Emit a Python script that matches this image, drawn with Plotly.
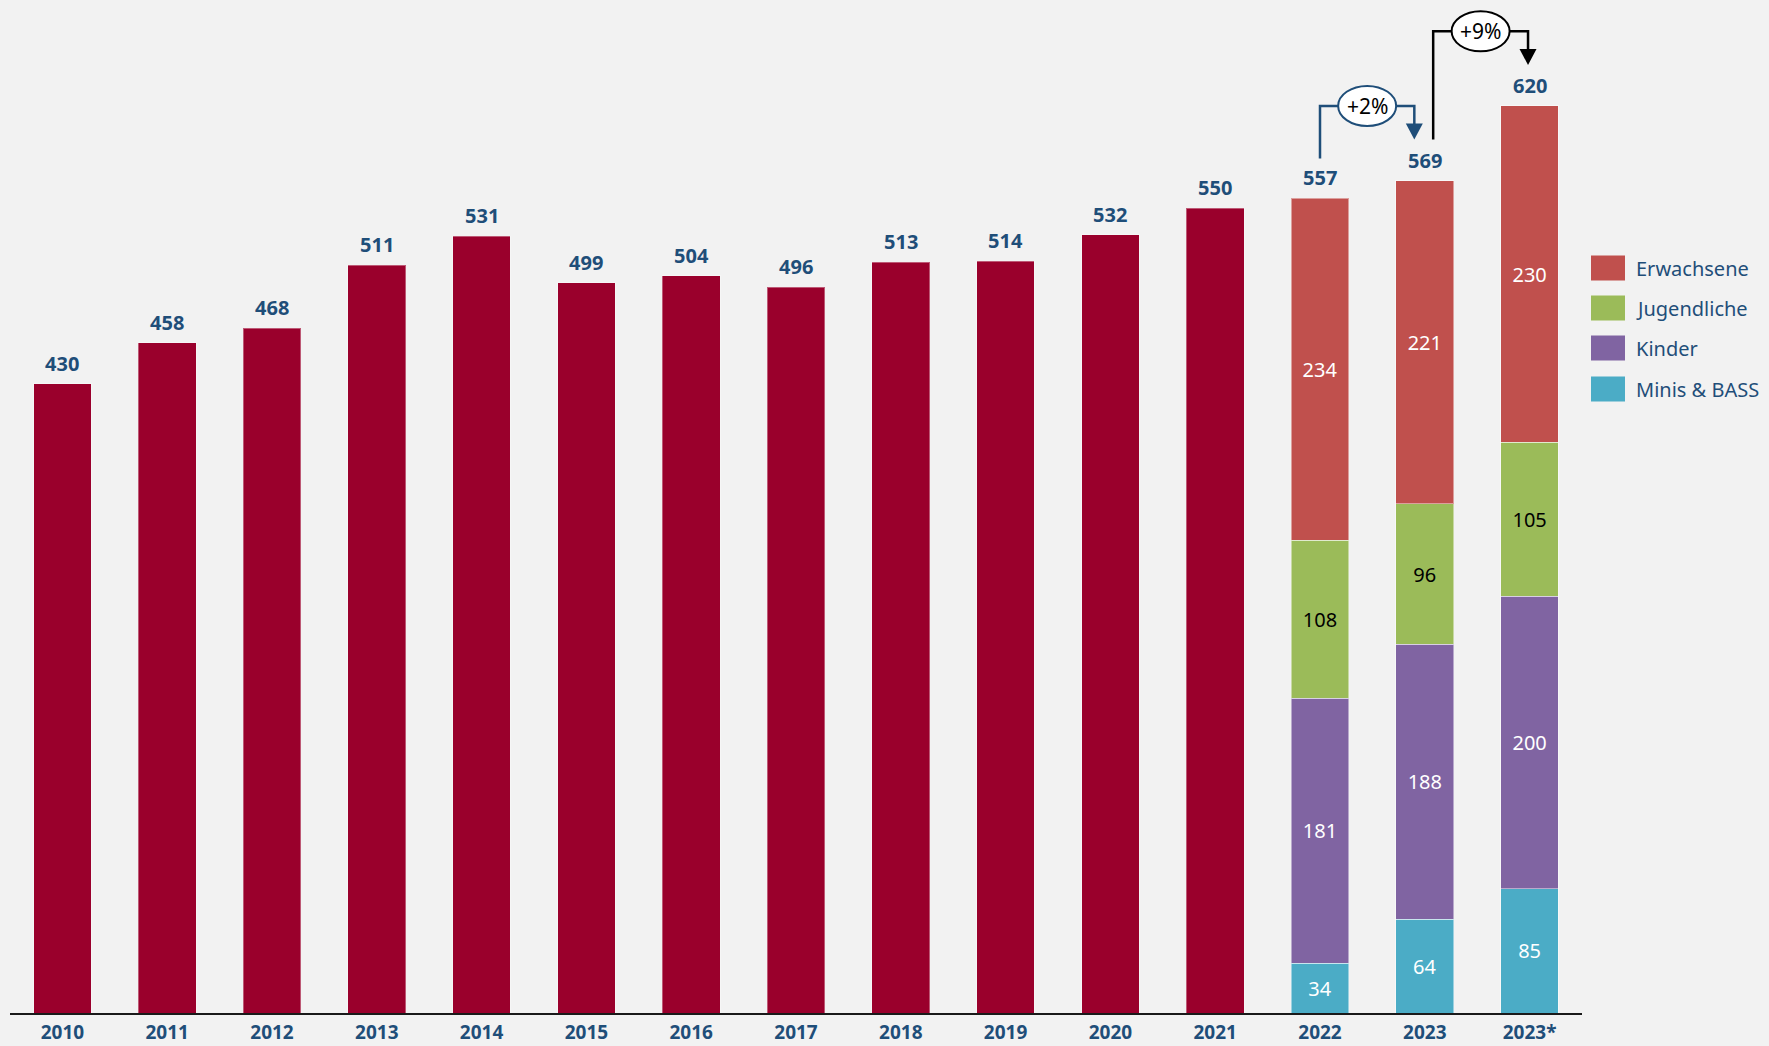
import plotly.graph_objects as go

# ---------------- data ----------------
years = ["2010", "2011", "2012", "2013", "2014", "2015", "2016", "2017",
         "2018", "2019", "2020", "2021", "2022", "2023", "2023*"]
totals = [430, 458, 468, 511, 531, 499, 504, 496, 513, 514, 532, 550, 557, 569, 620]

split_years = ["2022", "2023", "2023*"]
minis = [34, 64, 85]
kinder = [181, 188, 200]
jugendliche = [108, 96, 105]
erwachsene = [234, 221, 230]

series_names = ["Minis & BASS", "Kinder", "Jugendliche", "Erwachsene"]
series_colors = ["#4BACC6", "#8064A2", "#9BBB59", "#C0504D"]
series_text_colors = ["white", "white", "black", "white"]

changes = ["+2%", "+9%"]

# ---------------- style ----------------
BG = "#F2F2F2"
BAR_RED = "#9A002C"
BLUE = "#1F4E79"
FONT = "Noto Sans"

W, H = 1769, 1046
ML, MR, MT, MB = 10, 187, 0, 33
plot_w = W - ML - MR
plot_h = H - MT - MB
y_max = 692.4
bar_w = 0.55

idx = {y: i for i, y in enumerate(years)}
single_x = [idx[y] for y in years if y not in split_years]
single_y = [totals[idx[y]] for y in years if y not in split_years]
split_x = [idx[y] for y in split_years]

fig = go.Figure()

fig.add_trace(go.Bar(
    x=single_x, y=single_y, width=bar_w, marker_color=BAR_RED,
    marker_line=dict(color="rgba(255,255,255,0.35)", width=1),
    showlegend=False, hoverinfo="x+y", name="Gesamt"))

for name, vals, col, tcol in zip(series_names, [minis, kinder, jugendliche, erwachsene],
                                 series_colors, series_text_colors):
    fig.add_trace(go.Bar(
        x=split_x, y=vals, width=bar_w, name=name, marker_color=col,
        marker_line=dict(color="rgba(255,255,255,0.45)", width=1),
        text=[str(v) for v in vals], textposition="inside",
        insidetextanchor="middle", textangle=0,
        textfont=dict(family=FONT, size=20, color=tcol),
        showlegend=False))

# totals above bars
for i, t in enumerate(totals):
    fig.add_annotation(x=i, y=t, text=f"<b>{t}</b>", showarrow=False,
                       yanchor="bottom", yshift=5,
                       font=dict(family=FONT, size=20, color=BLUE))

# ---------------- change arrows ----------------
px_per_unit = plot_h / y_max
ux = plot_w / len(years)


def add_change(i_from, i_to, label, color, x_left_off):
    a = totals[i_from]
    b = totals[i_to]
    x_left = i_from + x_left_off
    x_right = i_to - 0.1 if i_to == 13 else i_to - 0.015
    y_start = a + 27 if x_left_off == 0 else totals[i_from] + 28
    y_top = b + 51
    y_tip = b + 28
    fig.add_shape(type="path",
                  path=f"M {x_left},{y_start} L {x_left},{y_top} L {x_right},{y_top} L {x_right},{y_tip + 10}",
                  line=dict(color=color, width=2.5), layer="above")
    hw = 8.5 / ux
    hh = 16 / px_per_unit
    fig.add_shape(type="path",
                  path=f"M {x_right - hw},{y_tip + hh} L {x_right + hw},{y_tip + hh} L {x_right},{y_tip} Z",
                  fillcolor=color, line=dict(color=color, width=0), layer="above")
    xc = (x_left + x_right) / 2
    ew = 29 / ux
    eh = 20 / px_per_unit
    fig.add_shape(type="circle", x0=xc - ew, x1=xc + ew, y0=y_top - eh, y1=y_top + eh,
                  fillcolor="white", line=dict(color=color, width=2), layer="above")
    fig.add_annotation(x=xc, y=y_top, text=label, showarrow=False,
                       font=dict(family=FONT, size=21, color="black"))


add_change(12, 13, changes[0], BLUE, 0.0)
add_change(13, 14, changes[1], "black", 0.08)

# ---------------- custom legend ----------------
leg_rows_py = [268, 308, 348, 389]
leg_names = ["Erwachsene", "Jugendliche", "Kinder", "Minis & BASS"]
leg_cols = ["#C0504D", "#9BBB59", "#8064A2", "#4BACC6"]
for py, nm, col in zip(leg_rows_py, leg_names, leg_cols):
    x0 = (1591 - ML) / plot_w
    x1 = (1625 - ML) / plot_w
    y0 = (plot_h + MT - (py + 12.5)) / plot_h
    y1 = (plot_h + MT - (py - 12.5)) / plot_h
    fig.add_shape(type="rect", xref="paper", yref="paper", x0=x0, x1=x1, y0=y0, y1=y1,
                  fillcolor=col, line=dict(width=0))
    fig.add_annotation(xref="paper", yref="paper", x=(1634 - ML) / plot_w,
                       y=(plot_h + MT - py) / plot_h, text=nm, showarrow=False,
                       xanchor="left", yanchor="middle",
                       font=dict(family=FONT, size=20, color=BLUE))

fig.update_layout(
    width=W, height=H,
    margin=dict(l=ML, r=MR, t=MT, b=MB, autoexpand=False),
    paper_bgcolor=BG, plot_bgcolor=BG,
    barmode="stack", bargap=0.45,
    showlegend=False,
    xaxis=dict(range=[-0.5, len(years) - 0.5], tickmode="array",
               tickvals=list(range(len(years))),
               ticktext=[f"<b>{y}</b>" for y in years],
               tickfont=dict(family=FONT, size=19, color=BLUE),
               ticklabelstandoff=1, automargin=False,
               showline=True, linecolor="#1a1a1a", linewidth=2,
               ticks="", showgrid=False, zeroline=False, fixedrange=True),
    yaxis=dict(range=[0, y_max], visible=False, showgrid=False, zeroline=False),
)

fig.write_html("out.html", config={"displayModeBar": False},
               post_script="document.body.style.margin='0';document.body.style.background='#F2F2F2';")
